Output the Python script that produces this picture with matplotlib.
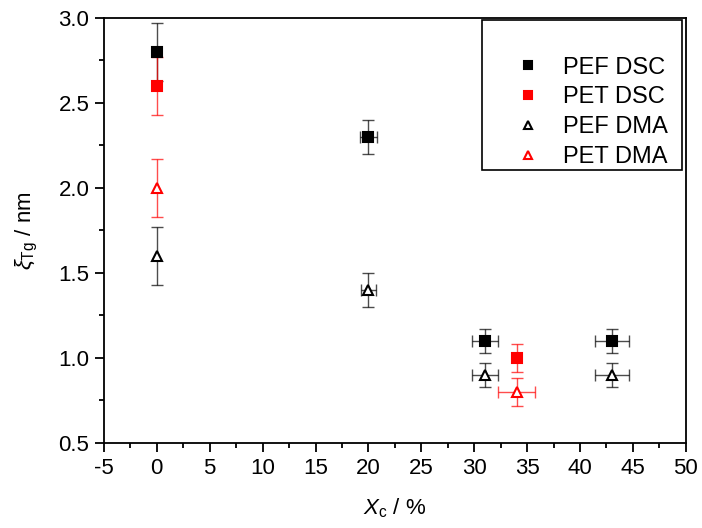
import numpy as np
import matplotlib
matplotlib.use("Agg")
import matplotlib.pyplot as plt
from matplotlib.ticker import MultipleLocator, FuncFormatter, FormatStrFormatter
from matplotlib.patches import Rectangle

plt.rcParams['font.family'] = ['Liberation Sans', 'DejaVu Sans']
plt.rcParams['mathtext.fontset'] = 'custom'
plt.rcParams['mathtext.rm'] = 'Liberation Sans'
plt.rcParams['mathtext.it'] = 'Liberation Sans:italic'

nan = np.nan
# PEF DSC
pef_dsc_x = [0, 20, 31, 43]
pef_dsc_y = [2.8, 2.3, 1.1, 1.1]
pef_dsc_yerr = [0.17, 0.1, 0.07, 0.07]
pef_dsc_xerr = [nan, 0.8, 1.2, 1.6]
# PET DSC
pet_dsc_x = [0, 34]
pet_dsc_y = [2.6, 1.0]
pet_dsc_yerr = [0.17, 0.08]
pet_dsc_xerr = [nan, nan]
# PEF DMA
pef_dma_x = [0, 20, 31, 43]
pef_dma_y = [1.6, 1.4, 0.9, 0.9]
pef_dma_yerr = [0.17, 0.1, 0.07, 0.07]
pef_dma_xerr = [nan, 0.7, 1.2, 1.6]
# PET DMA
pet_dma_x = [0, 34]
pet_dma_y = [2.0, 0.8]
pet_dma_yerr = [0.17, 0.08]
pet_dma_xerr = [nan, 1.75]

fig = plt.figure(figsize=(7.02, 5.28), dpi=100)
ax = fig.add_axes([0.148, 0.161, 0.829, 0.805])

def eb(x, y, xerr, yerr, color, marker, mfc, label):
    ax.errorbar(x, y, xerr=np.array(xerr), yerr=np.array(yerr), fmt='none',
                ecolor=color, elinewidth=1.0, capsize=4, capthick=1.0, alpha=0.7, zorder=2)
    ax.plot(x, y, linestyle='none', marker=marker, markersize=7 if marker == 's' else 7.5,
            markerfacecolor=mfc, markeredgecolor=color, markeredgewidth=1.5, label=label, zorder=3)

eb(pef_dsc_x, pef_dsc_y, pef_dsc_xerr, pef_dsc_yerr, 'black', 's', 'black', 'PEF DSC')
eb(pet_dsc_x, pet_dsc_y, pet_dsc_xerr, pet_dsc_yerr, 'red', 's', 'red', 'PET DSC')
eb(pef_dma_x, pef_dma_y, pef_dma_xerr, pef_dma_yerr, 'black', '^', 'white', 'PEF DMA')
eb(pet_dma_x, pet_dma_y, pet_dma_xerr, pet_dma_yerr, 'red', '^', 'white', 'PET DMA')

ax.set_xlim(-5, 50)
ax.set_ylim(0.5, 3.0)
ax.xaxis.set_major_locator(MultipleLocator(5))
ax.xaxis.set_minor_locator(MultipleLocator(2.5))
ax.yaxis.set_major_locator(MultipleLocator(0.5))
ax.yaxis.set_minor_locator(MultipleLocator(0.25))
ax.xaxis.set_major_formatter(FuncFormatter(lambda v, p: f"{v:g}"))
ax.yaxis.set_major_formatter(FormatStrFormatter('%.1f'))
ax.tick_params(which='both', direction='out', top=False, right=False, labelsize=16, width=1.3)
ax.tick_params(which='major', length=6.5, pad=4)
ax.tick_params(which='minor', length=3.3)
for s in ax.spines.values():
    s.set_linewidth(1.3)

ax.set_xlabel(r'$X_{\mathrm{c}}$ / %', fontsize=16, labelpad=13)
ax.set_ylabel(r'$\xi_{\mathrm{Tg}}$ / nm', fontsize=16, labelpad=13)

# legend frame
ax.add_patch(Rectangle((0.649, 0.642), 0.344, 0.353, transform=ax.transAxes,
                       fill=True, facecolor='white', edgecolor='black', linewidth=1.2, zorder=4))
leg = ax.legend(loc='upper left', bbox_to_anchor=(0.708, 0.909), fontsize=17, frameon=False,
                borderpad=0, borderaxespad=0, handlelength=1.0, handletextpad=1.0,
                labelspacing=0.33, markerscale=0.75)
leg.set_zorder(5)

fig.savefig('out.png', dpi=100)
